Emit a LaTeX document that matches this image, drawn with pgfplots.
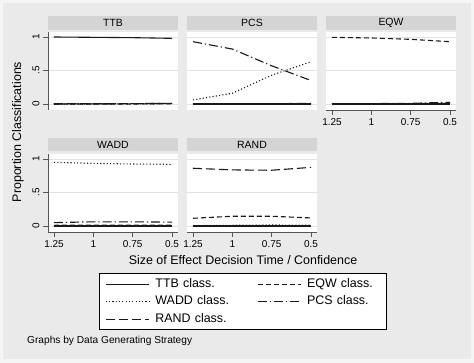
\documentclass[border=0pt]{standalone}
\usepackage{pgfplots}
\pgfplotsset{compat=1.18}
\usepackage{fontspec}
\setmainfont{Liberation Sans}
\definecolor{outerbg}{RGB}{245,245,245}
\definecolor{bg}{RGB}{234,234,234}
\definecolor{barbg}{RGB}{212,212,212}
\definecolor{gridc}{RGB}{226,226,226}
\definecolor{axc}{RGB}{85,85,85}
\definecolor{lnc}{RGB}{25,25,25}
\pgfplotsset{
 ttb/.style={lnc, line width=1.1bp, solid},
 wadd/.style={lnc, line width=1.1bp, dash pattern=on 1.1bp off 2.2bp},
 rand/.style={lnc, line width=1.1bp, dash pattern=on 9bp off 4bp},
 eqw/.style={lnc, line width=1.1bp, dash pattern=on 5bp off 3bp},
 pcs/.style={lnc, line width=1.1bp, dash pattern=on 9bp off 3bp on 1.2bp off 3bp},
 panel/.style={
   scale only axis, width=130bp, height=78.5bp,
   x dir=reverse, xmin=0.462, xmax=1.288,
   ymin=-0.09, ymax=1.082,
   axis background/.style={fill=white},
   axis lines*=left,
   x axis line style={-, draw=axc, line width=0.8bp},
   y axis line style={-, draw=axc, line width=0.8bp},
   xtick={0.5,0.75,1,1.25}, xticklabels={0.5,0.75,1,1.25},
   ytick={0,0.5,1}, yticklabels={0,.5,1},
   ymajorgrids, grid style={gridc, line width=0.8bp},
   tick align=outside, major tick length=5bp,
   tick style={axc, line width=0.8bp},
   ticklabel style={font=\fontsize{10}{12}\selectfont, text=black},
   /pgf/number format/assume math mode=true,
   yticklabel style={rotate=90, anchor=south},
   every axis plot/.append style={no markers},
   anchor=north west,
 },
 noxaxis/.style={x axis line style={draw=none}, xtick style={draw=none}, xticklabels={}},
 noyaxis/.style={y axis line style={draw=none}, ytick style={draw=none}, yticklabels={}},
}
\begin{document}
\begin{tikzpicture}
\fill[outerbg] (0,0) rectangle (474bp,-363bp);
\useasboundingbox (0,0) rectangle (474bp,-363bp);
\fill[bg] (3bp,-3bp) rectangle (471bp,-359bp);

% title bars
\foreach \x/\y/\t in {48/16/TTB,187/16/PCS,326/16/EQW,48/137.5/WADD,187/137.5/RAND}{
  \fill[barbg] (\x bp,-\y bp) rectangle ++(130bp,-13.5bp);
  \node[font=\fontsize{10.5}{12}\selectfont] at (\x bp+65bp,-\y bp-6.9bp) {\t};
}

% TTB panel
\begin{axis}[panel, noxaxis, at={(48bp,-31.5bp)}]
\addplot[ttb] coordinates {(1.25,1.0) (1,0.995) (0.75,0.99) (0.5,0.98)};
\addplot[wadd] coordinates {(1.25,0) (1,0) (0.75,0.002) (0.5,0.005)};
\addplot[rand] coordinates {(1.25,0.003) (1,0.003) (0.75,0.005) (0.5,0.01)};
\addplot[eqw] coordinates {(1.25,0) (1,0) (0.75,0) (0.5,0.003)};
\addplot[pcs] coordinates {(1.25,0) (1,0.002) (0.75,0.005) (0.5,0.008)};
\end{axis}

% PCS panel
\begin{axis}[panel, noxaxis, noyaxis, at={(187bp,-31.5bp)}]
\addplot[ttb] coordinates {(1.25,0) (1,0) (0.75,0) (0.5,0)};
\addplot[wadd] coordinates {(1.25,0.06) (1,0.16) (0.75,0.43) (0.5,0.63)};
\addplot[rand] coordinates {(1.25,0.005) (1,0.005) (0.75,0.005) (0.5,0.008)};
\addplot[eqw] coordinates {(1.25,0) (1,0) (0.75,0) (0.5,0)};
\addplot[pcs] coordinates {(1.25,0.93) (1,0.82) (0.75,0.57) (0.5,0.35)};
\end{axis}

% EQW panel
\begin{axis}[panel, noyaxis, at={(326bp,-31.5bp)}]
\addplot[ttb] coordinates {(1.25,0) (1,0) (0.75,0) (0.5,0)};
\addplot[wadd] coordinates {(1.25,0.002) (1,0.002) (0.75,0.002) (0.5,0.002)};
\addplot[rand] coordinates {(1.25,0.003) (1,0.003) (0.75,0.005) (0.5,0.01)};
\addplot[eqw] coordinates {(1.25,0.995) (1,0.985) (0.75,0.965) (0.5,0.93)};
\addplot[pcs] coordinates {(1.25,0.003) (1,0.005) (0.75,0.01) (0.5,0.025)};
\end{axis}

% WADD panel
\begin{axis}[panel, at={(48bp,-153.5bp)}]
\addplot[ttb] coordinates {(1.25,0) (1,0) (0.75,0) (0.5,0)};
\addplot[wadd] coordinates {(1.25,0.95) (1,0.935) (0.75,0.925) (0.5,0.92)};
\addplot[rand] coordinates {(1.25,0.005) (1,0.005) (0.75,0.005) (0.5,0.005)};
\addplot[eqw] coordinates {(1.25,0.01) (1,0.012) (0.75,0.012) (0.5,0.012)};
\addplot[pcs] coordinates {(1.25,0.05) (1,0.062) (0.75,0.062) (0.5,0.057)};
\end{axis}

% RAND panel + legend
\begin{axis}[panel, noyaxis, at={(187bp,-153.5bp)},
  legend columns=2,
  legend image code/.code={\draw[#1] (0bp,0bp) -- (43bp,0bp);},
  legend style={at={(0.4308,-0.522)}, anchor=north, draw=black, line width=0.8bp,
    fill=white, font=\fontsize{12.5}{14}\selectfont, inner xsep=5.5bp, inner ysep=4.5bp,
    row sep=5bp,
    nodes={inner sep=0pt, text height=9.5bp, text depth=3bp, text width=73.6bp},
    /tikz/every odd column/.append style={column sep=6bp},
    /tikz/every even column/.append style={column sep=28bp}},
  legend cell align=left]
\addlegendimage{ttb}\addlegendentry{TTB class.}
\addlegendimage{eqw}\addlegendentry{EQW class.}
\addlegendimage{wadd}\addlegendentry{WADD class.}
\addlegendimage{pcs}\addlegendentry{PCS class.}
\addlegendimage{rand}\addlegendentry{RAND class.}
\addplot[ttb, forget plot] coordinates {(1.25,0) (1,0) (0.75,0) (0.5,0)};
\addplot[wadd, forget plot] coordinates {(1.25,0.005) (1,0.01) (0.75,0.015) (0.5,0.01)};
\addplot[rand, forget plot] coordinates {(1.25,0.862) (1,0.837) (0.75,0.832) (0.5,0.875)};
\addplot[eqw, forget plot] coordinates {(1.25,0.115) (1,0.145) (0.75,0.145) (0.5,0.12)};
\addplot[pcs, forget plot] coordinates {(1.25,0.003) (1,0.003) (0.75,0.003) (0.5,0.003)};
\end{axis}

% labels
\node[font=\fontsize{12.5}{14}\selectfont, rotate=90] at (18bp,-132bp) {Proportion Classifications};
\node[font=\fontsize{12.5}{14}\selectfont] at (243bp,-260.5bp) {Size of Effect Decision Time / Confidence};
\node[font=\fontsize{10.2}{12}\selectfont, anchor=west, inner sep=0pt] at (27bp,-341bp) {Graphs by Data Generating Strategy};
\end{tikzpicture}
\end{document}
